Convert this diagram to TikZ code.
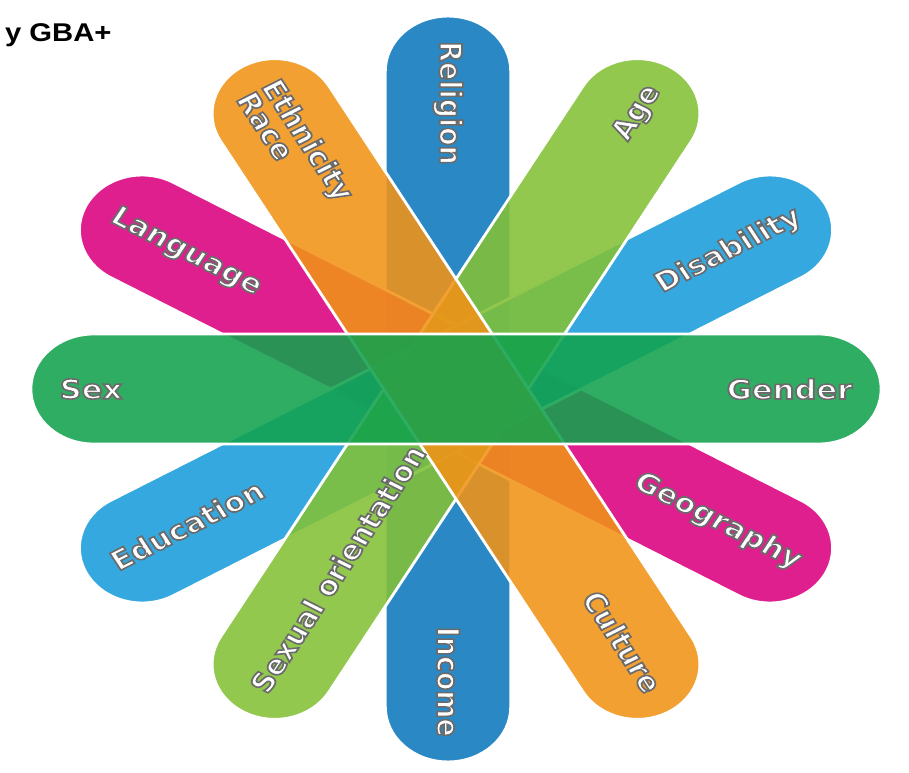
\documentclass[tikz,border=0pt]{standalone}
\usepackage{fontspec}
\setmainfont{DejaVu Sans}
\newfontfamily\headfont{Liberation Sans}
\usetikzlibrary{shapes.misc}

\definecolor{sexgreen}{RGB}{18,162,77}
\definecolor{religionblue}{RGB}{13,120,188}
\definecolor{ethnicorange}{RGB}{241,147,23}
\definecolor{agelime}{RGB}{131,192,54}
\definecolor{languagepink}{RGB}{220,0,128}
\definecolor{disabilitycyan}{RGB}{25,157,219}

% white letters with a grey rim: fill and stroke the glyphs
\newcommand{\tagrim}[1]{\special{pdf:literal direct 2 Tr 0.9 w 0.42 G}#1\special{pdf:literal direct 0 Tr}}

\begin{document}
\begin{tikzpicture}[x=0.02cm,y=0.02cm,
  band/.style={rounded rectangle, transform shape, draw=white, line width=1.6pt,
    fill=#1, fill opacity=0.88, minimum width=14.92cm, minimum height=2.2cm,
    inner sep=0pt, outer sep=0pt},
  tag/.style={transform shape, text=white, inner sep=0pt, align=left,
    font=\bfseries\fontsize{15.3}{14.5}\selectfont}]
  \useasboundingbox (0,0) rectangle (909,772);

  \node[anchor=base west, xscale=1.14, font=\headfont\bfseries\fontsize{14.6}{17}\selectfont] (title) at (-2,730) {y GBA+};

  % the six bands, all through one centre, stretched sideways
  \begin{scope}[shift={(456,383)}, xscale=1.14]
    \node[band=religionblue, rotate=90] (religion-income) at (-7,0) {};
    \node[band=languagepink, rotate=-30] (language-geography) at (0,0) {};
    \node[band=disabilitycyan, rotate=30] (disability-education) at (0,0) {};
    \node[band=agelime, rotate=60] (age-orientation) at (0,0) {};
    \node[band=ethnicorange, rotate=-60] (ethnicity-culture) at (0,0) {};
    \node[band=sexgreen] (sex-gender) at (0,0) {};

    % labels sit at the outer ends
    \node[tag, anchor=west] (sex) at (180:348) {\tagrim{Sex}};
    \node[tag, anchor=east] (gender) at (0:348) {\tagrim{Gender}};
    \node[tag, anchor=west, rotate=-90] (religion) at (-7,348) {\tagrim{Religion}};
    \node[tag, anchor=east, rotate=-90] (income) at (-7,-348) {\tagrim{Income}};
    \node[tag, anchor=west, rotate=-60] (ethnicity) at (120:348) {\tagrim{Ethnicity}\\\tagrim{Race}};
    \node[tag, anchor=east, rotate=-60] (culture) at (-60:348) {\tagrim{Culture}};
    \node[tag, anchor=east, rotate=60] (age) at (60:348) {\tagrim{Age}};
    \node[tag, anchor=west, rotate=60] (orientation) at (240:348) {\tagrim{Sexual orientation}};
    \node[tag, anchor=west, rotate=-30] (language) at (150:348) {\tagrim{Language}};
    \node[tag, anchor=east, rotate=-30] (geography) at (-30:348) {\tagrim{Geography}};
    \node[tag, anchor=east, rotate=30] (disability) at (30:348) {\tagrim{Disability}};
    \node[tag, anchor=west, rotate=30] (education) at (210:348) {\tagrim{Education}};
  \end{scope}
\end{tikzpicture}
\end{document}
